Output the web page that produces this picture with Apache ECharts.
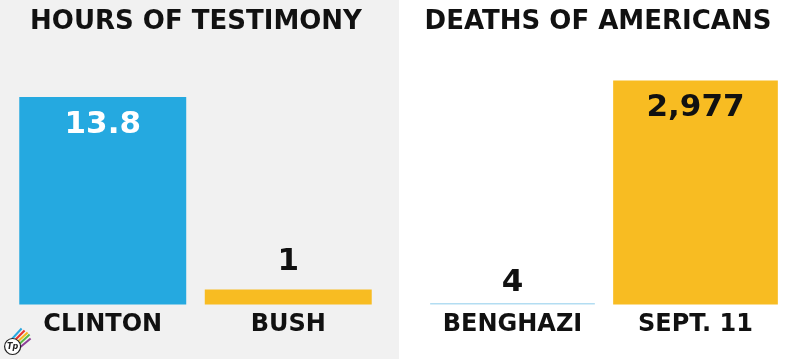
<!DOCTYPE html>
<html><head><meta charset="utf-8">
<script src="https://cdn.jsdelivr.net/npm/echarts@6/dist/echarts.min.js"></script>
<style>html,body{margin:0;padding:0;background:#fff}#c{width:800px;height:359px}</style>
</head><body><div id="c"></div>
<script>
const leftTitle = 'HOURS OF TESTIMONY';
const rightTitle = 'DEATHS OF AMERICANS';
const leftCategories = ['CLINTON', 'BUSH'];
const leftValues = [13.8, 1];
const leftLabels = ['13.8', '1'];
const rightCategories = ['BENGHAZI', 'SEPT. 11'];
const rightValues = [4, 2977];
const rightLabels = ['4', '2,977'];

const FONT = '"DejaVu Sans", sans-serif';
const BLUE = '#25a9e0', YELLOW = '#f8bc22';

const chart = echarts.init(document.getElementById('c'), null, {renderer: 'canvas'});

function catAxis(gi, cats) {
  return {
    type: 'category', gridIndex: gi, data: cats,
    axisLine: {show: false}, axisTick: {show: false},
    axisLabel: {interval: 0, hideOverlap: false, margin: 8, color: '#111', fontFamily: FONT,
      fontWeight: 'bold', fontSize: 24}
  };
}
function valAxis(gi) {
  return {type: 'value', gridIndex: gi, min: 0, max: 'dataMax', show: false, splitLine: {show: false}};
}

const leftData = leftValues.map((v, i) => ({
  value: v,
  itemStyle: {color: i === 0 ? BLUE : YELLOW},
  label: i === 0
    ? {position: 'insideTop', distance: 12, color: '#fff'}
    : {position: 'top', distance: 12, color: '#111'}
}));
const rightData = rightValues.map((v, i) => ({
  value: v,
  itemStyle: {color: i === 0 ? '#b3ddf2' : YELLOW},
  label: i === 0
    ? {position: 'top', distance: 5, color: '#111'}
    : {position: 'insideTop', distance: 12, color: '#111'}
}));

chart.setOption({
  animation: false,
  backgroundColor: '#fff',
  graphic: [
    {type: 'rect', z: -10, shape: {x: 0, y: 0, width: 399, height: 359}, style: {fill: '#f1f1f1'}, silent: true},
    {type: 'text', style: {x: 196, y: 22, text: leftTitle, align: 'center', verticalAlign: 'middle',
      font: 'bold 26px ' + FONT, fill: '#111'}},
    {type: 'text', style: {x: 598, y: 22, text: rightTitle, align: 'center', verticalAlign: 'middle',
      font: 'bold 26px ' + FONT, fill: '#111'}},
    {type: 'group', left: 4, top: 326, children: [
      {type: 'line', shape: {x1: 8, y1: 14, x2: 19, y2: 2}, style: {stroke: '#2aa7df', lineWidth: 2}},
      {type: 'line', shape: {x1: 10, y1: 16, x2: 22, y2: 4}, style: {stroke: '#e8322e', lineWidth: 2}},
      {type: 'line', shape: {x1: 12, y1: 18, x2: 25, y2: 6}, style: {stroke: '#f6b71b', lineWidth: 2}},
      {type: 'line', shape: {x1: 14, y1: 20, x2: 27, y2: 8}, style: {stroke: '#5cb947', lineWidth: 2}},
      {type: 'line', shape: {x1: 16, y1: 22, x2: 28, y2: 12}, style: {stroke: '#8c3f98', lineWidth: 2}},
      {type: 'circle', shape: {cx: 10, cy: 20, r: 8}, style: {fill: '#fff', stroke: '#222', lineWidth: 1.2}},
      {type: 'text', style: {x: 10, y: 20, text: 'Tp', align: 'center', verticalAlign: 'middle', font: 'bold italic 8px ' + FONT, fill: '#222'}}
    ]}
  ],
  grid: [
    {left: 10, width: 371, top: 97, bottom: 54.5, containLabel: false},
    {left: 421, width: 366, top: 80.5, bottom: 54.5, containLabel: false}
  ],
  xAxis: [catAxis(0, leftCategories), catAxis(1, rightCategories)],
  yAxis: [valAxis(0), valAxis(1)],
  series: [
    {type: 'bar', xAxisIndex: 0, yAxisIndex: 0, barCategoryGap: '10%', data: leftData,
     label: {show: true, fontFamily: FONT, fontWeight: 'bold', fontSize: 31,
       formatter: p => leftLabels[p.dataIndex]}},
    {type: 'bar', xAxisIndex: 1, yAxisIndex: 1, barCategoryGap: '10%', barMinHeight: 1.5, data: rightData,
     label: {show: true, fontFamily: FONT, fontWeight: 'bold', fontSize: 31,
       formatter: p => rightLabels[p.dataIndex]}}
  ]
});
</script>
</body></html>
